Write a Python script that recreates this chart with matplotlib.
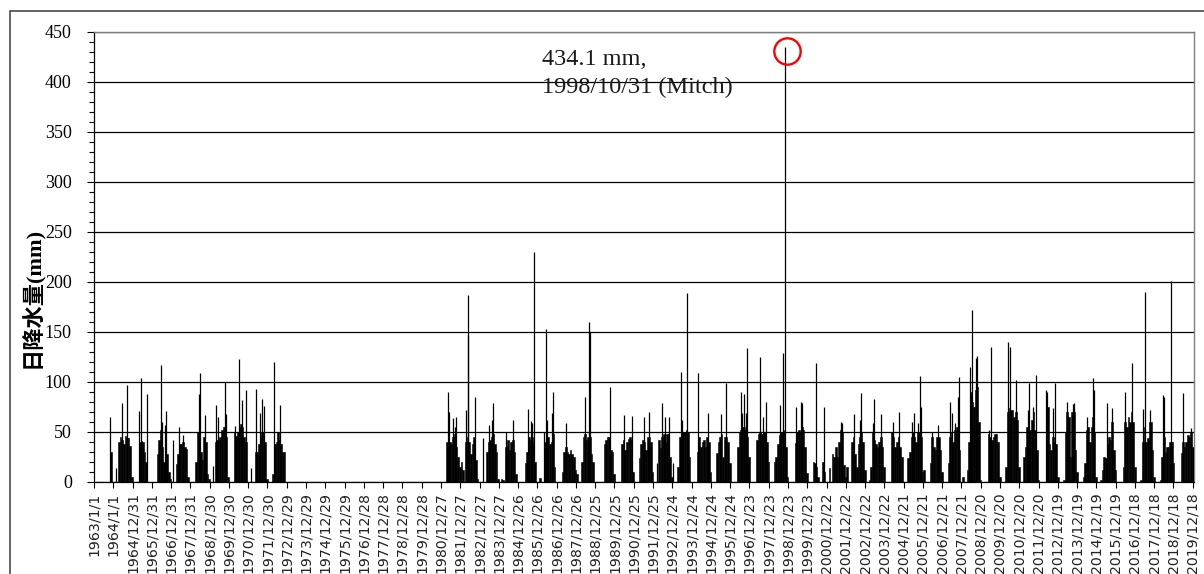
import numpy as np
import pandas as pd
import matplotlib
matplotlib.use("Agg")
import matplotlib.pyplot as plt
import matplotlib.dates as mdates
from matplotlib.patches import Rectangle
from matplotlib.ticker import MultipleLocator
from matplotlib.transforms import offset_copy

# ---------------- data ----------------
tick_labels = ["1963/1/1", "1964/1/1", "1964/12/31", "1965/12/31", "1966/12/31", "1967/12/31",
               "1968/12/30", "1969/12/30", "1970/12/30", "1971/12/30", "1972/12/29", "1973/12/29",
               "1974/12/29", "1975/12/29", "1976/12/28", "1977/12/28", "1978/12/28", "1979/12/28",
               "1980/12/27", "1981/12/27", "1982/12/27", "1983/12/27", "1984/12/26", "1985/12/26",
               "1986/12/26", "1987/12/26", "1988/12/25", "1989/12/25", "1990/12/25", "1991/12/25",
               "1992/12/24", "1993/12/24", "1994/12/24", "1995/12/24", "1996/12/23", "1997/12/23",
               "1998/12/23", "1999/12/23", "2000/12/22", "2001/12/22", "2002/12/22", "2003/12/22",
               "2004/12/21", "2005/12/21", "2006/12/21", "2007/12/21", "2008/12/20", "2009/12/20",
               "2010/12/20", "2011/12/20", "2012/12/19", "2013/12/19", "2014/12/19", "2015/12/19",
               "2016/12/18", "2017/12/18", "2018/12/18", "2019/12/18"]

# typical (monthly) daily-rain level, Jan..Dec, mm
bulk_1963 = [0, 0, 0, 0, 0, 0, 0, 0, 0, 0, 30, 0]
bulk_1964 = [0, 0, 0, 40, 45, 42, 38, 46, 44, 44, 36, 5]
bulk_1965 = [0, 0, 0, 0, 40, 41, 40, 30, 20, 0, 0, 0]
bulk_1966 = [0, 0, 0, 28, 42, 52, 35, 20, 48, 28, 10, 3]
bulk_1967 = [0, 0, 0, 18, 28, 38, 38, 40, 35, 33, 5, 0]
bulk_1968 = [0, 0, 0, 20, 50, 50, 30, 22, 45, 40, 8, 3]
bulk_1969 = [0, 0, 0, 40, 42, 42, 45, 52, 55, 55, 45, 5]
bulk_1970 = [0, 0, 0, 50, 46, 50, 55, 58, 55, 45, 40, 0]
bulk_1971 = [0, 0, 0, 0, 30, 30, 38, 45, 50, 50, 40, 3]
bulk_1972 = [0, 0, 0, 8, 38, 40, 50, 42, 38, 30, 30, 0]
bulk_1981 = [0, 0, 0, 40, 45, 40, 38, 45, 48, 35, 25, 15]
bulk_1982 = [20, 12, 0, 40, 45, 40, 28, 38, 45, 22, 3, 0]
bulk_1983 = [0, 0, 0, 0, 30, 40, 42, 45, 48, 38, 30, 3]
bulk_1984 = [0, 3, 2, 0, 35, 42, 32, 40, 42, 30, 8, 0]
bulk_1985 = [0, 0, 0, 0, 19, 30, 45, 42, 45, 40, 20, 0]
bulk_1986 = [0, 4, 0, 0, 40, 45, 45, 38, 40, 48, 15, 0]
bulk_1987 = [0, 0, 0, 10, 30, 35, 30, 28, 32, 28, 25, 12]
bulk_1988 = [8, 0, 0, 20, 45, 48, 42, 45, 45, 28, 20, 0]
bulk_1989 = [0, 0, 0, 0, 0, 38, 42, 45, 45, 32, 30, 8]
bulk_1990 = [0, 0, 0, 0, 38, 42, 32, 40, 43, 45, 42, 10]
bulk_1991 = [0, 0, 0, 24, 38, 42, 40, 32, 45, 45, 40, 10]
bulk_1992 = [0, 0, 0, 42, 34, 45, 48, 40, 48, 48, 25, 5]
bulk_1993 = [0, 0, 0, 15, 45, 50, 50, 50, 52, 50, 25, 0]
bulk_1994 = [0, 0, 0, 30, 45, 35, 40, 42, 35, 45, 40, 10]
bulk_1995 = [0, 0, 0, 29, 40, 45, 48, 25, 45, 45, 40, 19]
bulk_1996 = [0, 0, 0, 0, 35, 50, 52, 55, 55, 52, 45, 25]
bulk_1997 = [0, 0, 0, 0, 42, 48, 50, 48, 50, 50, 40, 20]
bulk_1998 = [0, 0, 0, 20, 25, 38, 47, 50, 50, 52, 35, 5]
bulk_1999 = [0, 0, 0, 0, 39, 50, 52, 50, 55, 52, 35, 9]
bulk_2000 = [0, 0, 0, 20, 19, 15, 5, 0, 0, 20, 10, 0]
bulk_2001 = [0, 14, 0, 28, 25, 35, 25, 40, 52, 50, 17, 5]
bulk_2002 = [15, 0, 0, 40, 45, 28, 15, 38, 45, 50, 40, 12]
bulk_2003 = [0, 0, 2, 15, 50, 42, 38, 35, 40, 45, 35, 15]
bulk_2004 = [0, 0, 0, 0, 50, 45, 35, 40, 45, 35, 25, 0]
bulk_2005 = [0, 0, 24, 30, 45, 50, 45, 40, 50, 50, 45, 10]
bulk_2006 = [12, 0, 0, 0, 19, 45, 35, 32, 45, 45, 32, 10]
bulk_2007 = [0, 0, 0, 19, 45, 50, 40, 52, 55, 55, 32, 0]
bulk_2008 = [5, 0, 0, 12, 40, 90, 80, 75, 92, 95, 60, 2]
bulk_2009 = [0, 0, 0, 0, 48, 45, 42, 45, 48, 48, 40, 5]
bulk_2010 = [0, 0, 0, 15, 70, 74, 72, 72, 65, 70, 62, 15]
bulk_2011 = [0, 0, 25, 35, 55, 55, 52, 62, 70, 52, 32, 2]
bulk_2012 = [0, 0, 0, 0, 70, 75, 38, 32, 45, 40, 38, 5]
bulk_2013 = [0, 0, 0, 2, 50, 70, 65, 25, 70, 70, 32, 10]
bulk_2014 = [0, 0, 0, 5, 19, 52, 55, 40, 55, 65, 50, 5]
bulk_2015 = [0, 0, 2, 12, 25, 24, 38, 45, 42, 60, 32, 12]
bulk_2016 = [0, 0, 0, 0, 15, 60, 55, 65, 60, 70, 60, 15]
bulk_2017 = [0, 0, 0, 2, 40, 55, 40, 44, 60, 60, 32, 5]
bulk_2018 = [0, 0, 0, 2, 25, 45, 30, 35, 35, 40, 40, 19]
bulk_2019 = [0, 0, 0, 0, 29, 40, 35, 40, 47, 45, 50, 35]

# individual daily peaks (mm)
spike_dates = ["1963-10-30", "1964-02-17", "1964-06-09", "1964-09-24", "1965-05-09", "1965-06-03",
               "1965-10-01", "1966-06-17", "1966-07-05", "1966-08-29", "1966-10-01", "1967-02-10",
               "1967-06-07", "1967-08-19", "1968-06-07", "1968-06-25", "1968-09-27", "1969-03-12",
               "1969-04-22", "1969-06-14", "1969-10-13", "1969-11-07", "1970-04-25", "1970-07-15",
               "1970-08-28", "1970-11-10", "1971-02-17", "1971-05-22", "1971-08-08", "1971-09-24",
               "1971-10-20", "1972-05-04", "1972-08-15",
               "1981-05-02", "1981-05-25", "1981-08-12", "1981-09-12", "1981-10-08", "1982-04-22",
               "1982-05-17", "1982-05-23", "1982-09-27", "1983-03-05", "1983-06-17", "1983-08-15",
               "1983-09-10", "1984-05-19", "1984-09-24", "1985-06-28", "1985-08-19", "1985-09-24",
               "1985-10-30", "1986-05-08", "1986-06-10", "1986-07-05", "1986-10-01", "1986-10-27",
               "1987-06-17", "1988-06-17", "1988-09-03", "1988-09-09", "1989-09-24", "1990-06-21",
               "1990-11-25", "1991-07-16", "1991-10-13", "1992-03-01", "1992-06-10", "1992-08-01",
               "1992-10-16", "1993-01-10", "1993-06-12", "1993-07-05", "1993-10-05", "1994-05-01",
               "1994-10-24", "1995-06-28", "1995-10-13", "1996-07-10", "1996-08-10", "1996-09-13",
               "1996-10-13", "1996-11-14", "1997-07-05", "1997-09-03", "1997-10-27", "1998-08-01",
               "1998-09-27", "1998-10-31", "1999-06-01", "1999-08-22", "1999-09-17", "2000-06-07",
               "2000-10-30", "2001-09-16", "2001-10-12", "2002-05-28", "2002-09-20", "2002-10-14",
               "2003-05-22", "2003-06-10", "2003-10-16", "2004-05-25", "2004-09-17", "2005-06-05",
               "2005-07-02", "2005-09-10", "2005-10-25", "2005-11-12", "2006-06-10", "2006-10-06",
               "2007-05-22", "2007-06-17", "2007-08-12", "2007-10-08", "2007-10-27", "2008-06-05",
               "2008-07-04", "2008-09-27", "2008-10-15", "2009-05-20", "2009-07-02", "2010-05-12",
               "2010-06-25", "2010-10-24", "2011-05-27", "2011-06-21", "2011-09-10", "2011-10-31",
               "2012-05-08", "2012-06-02", "2012-09-13", "2012-11-01", "2013-06-03", "2013-09-28",
               "2013-10-22", "2014-07-02", "2014-10-16", "2014-11-03", "2015-07-02", "2015-10-16",
               "2016-06-21", "2016-10-24", "2017-05-15", "2017-06-21", "2017-09-24", "2018-06-05",
               "2018-06-28", "2018-11-10", "2019-06-12", "2019-11-17"]
spike_values = [65, 14, 79, 97, 71, 104,
                88, 117, 60, 57, 71, 42,
                55, 47, 88, 109, 67, 16,
                77, 65, 100, 68, 56, 123,
                82, 92, 14, 93, 69, 83,
                76, 120, 77,
                90, 70, 64, 55, 65, 72,
                187, 147, 85, 44, 57, 62,
                79, 50, 62, 73, 61, 59,
                230, 50, 153, 62, 69, 90,
                59, 85, 160, 150, 95, 67,
                66, 65, 70, 19, 79, 65,
                65, 19, 110, 62, 189, 109,
                69, 68, 99, 90, 69, 88,
                69, 134, 125, 65, 80, 77,
                129, 434.1, 75, 80, 79, 119,
                75, 60, 59, 68, 62, 89,
                59, 83, 68, 60, 70, 60,
                69, 59, 106, 75, 50, 57,
                80, 69, 59, 85, 105, 115,
                172, 124, 126, 52, 135, 140,
                135, 102, 72, 99, 75, 107,
                92, 90, 74, 99, 80, 78,
                79, 65, 104, 92, 79, 74,
                90, 119, 73, 190, 72, 87,
                85, 201, 89, 54]

mitch_date = "1998-10-31"
mitch_value = 434.1
mitch_text = "434.1 mm,\n1998/10/31 (Mitch)"
y_label = "日降水量(mm)"

bulk_years = {1963: bulk_1963, 1964: bulk_1964, 1965: bulk_1965, 1966: bulk_1966, 1967: bulk_1967,
              1968: bulk_1968, 1969: bulk_1969, 1970: bulk_1970, 1971: bulk_1971, 1972: bulk_1972,
              1981: bulk_1981, 1982: bulk_1982, 1983: bulk_1983, 1984: bulk_1984, 1985: bulk_1985,
              1986: bulk_1986, 1987: bulk_1987, 1988: bulk_1988, 1989: bulk_1989, 1990: bulk_1990,
              1991: bulk_1991, 1992: bulk_1992, 1993: bulk_1993, 1994: bulk_1994, 1995: bulk_1995,
              1996: bulk_1996, 1997: bulk_1997, 1998: bulk_1998, 1999: bulk_1999, 2000: bulk_2000,
              2001: bulk_2001, 2002: bulk_2002, 2003: bulk_2003, 2004: bulk_2004, 2005: bulk_2005,
              2006: bulk_2006, 2007: bulk_2007, 2008: bulk_2008, 2009: bulk_2009, 2010: bulk_2010,
              2011: bulk_2011, 2012: bulk_2012, 2013: bulk_2013, 2014: bulk_2014, 2015: bulk_2015,
              2016: bulk_2016, 2017: bulk_2017, 2018: bulk_2018, 2019: bulk_2019}

# ---------------- figure ----------------
W, H = 1204, 574
fig = plt.figure(figsize=(W / 100, H / 100), dpi=100)
ax = fig.add_axes([94 / W, 1 - 482 / H, (1193.5 - 94) / W, (482 - 31.5) / H])

xs, ws, hs = [], [], []
for yr, vals in bulk_years.items():
    for m, v in enumerate(vals, start=1):
        if v <= 0:
            continue
        start = pd.Timestamp(yr, m, 1)
        end = start + pd.offsets.MonthBegin(1)
        x0 = mdates.date2num(start)
        xs.append(x0)
        ws.append(mdates.date2num(end) - x0)
        hs.append(v)
ax.bar(xs, hs, width=ws, align="edge", color="black", edgecolor="black",
       linewidth=0.4, zorder=3)

sx = mdates.date2num(pd.to_datetime(spike_dates))
ax.vlines(sx, 0, spike_values, color="black", linewidth=0.9, zorder=3)

# axes limits, ticks
tick_pos = mdates.date2num(pd.to_datetime(tick_labels, format="%Y/%m/%d"))
ax.set_xlim(tick_pos[0], mdates.date2num(pd.Timestamp("2020-01-01")))
ax.set_ylim(0, 450)
ax.set_xticks(tick_pos)
ax.set_xticklabels(tick_labels, rotation=90, fontsize=10.2, family="DejaVu Sans",
                   color="#222222")
ax.set_yticks(np.arange(0, 451, 50))
ax.yaxis.set_minor_locator(MultipleLocator(10))
ax.tick_params(axis="x", direction="out", length=4, width=0.8, pad=3.5)
ax.tick_params(axis="y", which="major", direction="out", length=5, width=0.8, pad=11,
               labelsize=13, labelfontfamily="Liberation Serif")
ax.tick_params(axis="y", which="minor", direction="out", length=3.5, width=0.8)

ax.yaxis.grid(True, color="black", linewidth=0.9, zorder=1)
ax.set_axisbelow(True)
for side in ("left", "bottom"):
    ax.spines[side].set_color("black")
    ax.spines[side].set_linewidth(0.9)
for side in ("top", "right"):
    ax.spines[side].set_color("#7f7f7f")
    ax.spines[side].set_linewidth(1.0)

# y label
fig.text(32.5 / W, 1 - 297 / H, y_label, rotation=90, ha="center", va="center",
         fontsize=16, fontweight="bold", family=["Liberation Serif", "Noto Sans CJK JP"])

# annotation
ax.text((541.5 - 94) / (1193.5 - 94), (482 - 49) / (482 - 31.5), mitch_text,
        transform=ax.transAxes, ha="left", va="top", fontsize=17.5,
        family="Liberation Serif", color="#1a1a1a", linespacing=1.45)
mx = mdates.date2num(pd.Timestamp(mitch_date))
ax.plot([mx], [mitch_value], marker="o", ms=19, mfc="none", mec="red", mew=1.7,
        transform=offset_copy(ax.transData, fig=fig, x=1.5, y=-3.5, units="dots"),
        clip_on=False, zorder=5)

# outer chart frame
fig.add_artist(Rectangle((9.5 / W, -0.2), 1.2, 1.2 - 11.5 / H, transform=fig.transFigure,
                         fill=False, edgecolor="#3a3a3a", linewidth=1.1, clip_on=False))

fig.savefig("out.png", dpi=100)
